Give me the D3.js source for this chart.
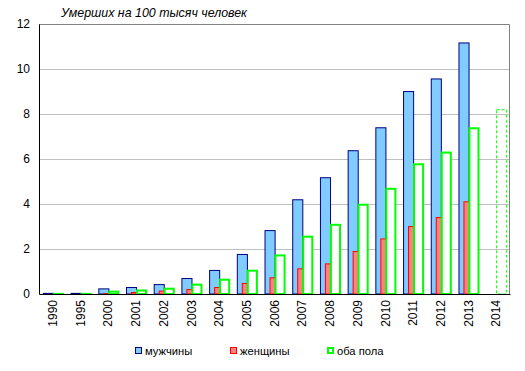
<!DOCTYPE html>
<html>
<head>
<meta charset="utf-8">
<script src="https://cdn.jsdelivr.net/npm/d3@7"></script>
<style>
  body { margin: 0; background: #fff; }
  text { font-family: "Liberation Sans", Arial, sans-serif; fill: #000; }
</style>
</head>
<body>
<div id="chart"></div>
<script>
// data
let years = ["1990", "1995", "2000", "2001", "2002", "2003", "2004", "2005", "2006",
    "2007", "2008", "2009", "2010", "2011", "2012", "2013", "2014"];
let men   = [0.05, 0.05, 0.25, 0.31, 0.44, 0.71, 1.07, 1.78, 2.84, 4.21, 5.19, 6.39, 7.41, 9.02, 9.58, 11.18, null];
let women = [0.02, 0.02, 0.04, 0.09, 0.15, 0.22, 0.31, 0.49, 0.74, 1.14, 1.36, 1.91, 2.47, 3.02, 3.42, 4.12, null];
let both  = [0.05, 0.05, 0.15, 0.2, 0.28, 0.46, 0.68, 1.08, 1.76, 2.59, 3.12, 4.01, 4.72, 5.81, 6.33, 7.41, null];
let forecast = [null, null, null, null, null, null, null, null, null, null, null, null, null, null, null, null, 8.21];
let yTicks = [0, 2, 4, 6, 8, 10, 12];
let legendNames = ["мужчины", "женщины", "оба пола"];
let title = "Умерших на 100 тысяч человек";

let svgWidth = 525;
let svgHeight = 371;

let margin = { top: 24, right: 15, bottom: 77, left: 39 };
let width = svgWidth - margin.left - margin.right;
let height = svgHeight - margin.top - margin.bottom;

let svg = d3.select("#chart")
    .append("svg")
    .attr("width", svgWidth)
    .attr("height", svgHeight);

let chartGroup = svg.append("g")
    .attr("transform", `translate(${margin.left}, ${margin.top})`);

let xScale = d3.scaleBand()
    .domain(years)
    .range([0, width])
    .padding(0);

let yScale = d3.scaleLinear()
    .domain([0, 12])
    .range([height, 0]);

let bw = xScale.bandwidth();
let barW = bw * 0.4;

// gridlines
chartGroup.append("g")
    .selectAll("line")
    .data(yTicks.filter(t => t > 0 && t < 12))
    .enter()
    .append("line")
    .attr("x1", 0)
    .attr("x2", width)
    .attr("y1", d => Math.round(yScale(d)) + 0.5)
    .attr("y2", d => Math.round(yScale(d)) + 0.5)
    .attr("stroke", "#c0c0c0");

// top + right frame
chartGroup.append("path")
    .attr("d", `M0,0.5H${width - 0.5}V${height}`)
    .attr("fill", "none")
    .attr("stroke", "#808080");

let rows = years.map((y, i) => ({ year: y, men: men[i], women: women[i], both: both[i], forecast: forecast[i] }));

function drawBars(key, offset, fill, stroke, sw, dash) {
    chartGroup.append("g")
        .selectAll("rect")
        .data(rows.filter(d => d[key] != null))
        .enter()
        .append("rect")
        .attr("x", d => xScale(d.year) + bw * offset + sw / 2)
        .attr("y", d => yScale(d[key]) + sw / 2)
        .attr("width", barW - sw)
        .attr("height", d => Math.max(0, height - yScale(d[key]) - sw / 2))
        .attr("fill", fill)
        .attr("stroke", stroke)
        .attr("stroke-width", sw)
        .attr("stroke-dasharray", dash);
}

drawBars("men", 0.14, "#80ccff", "#000080", 1, null);
drawBars("women", 0.32, "#ff8080", "#ff0000", 1, null);
drawBars("both", 0.5, "#ffffff", "#00ff00", 2, null);
drawBars("forecast", 0.5, "none", "#00ff00", 1, "3,2");

// axes
let leftAxis = d3.axisLeft(yScale).tickValues(yTicks).tickSize(0).tickPadding(9);
let yAxis = chartGroup.append("g").call(leftAxis);
yAxis.select(".domain").attr("stroke", "#000");
yAxis.selectAll("text").attr("font-size", "12px").attr("font-family", "Liberation Sans, Arial, sans-serif");

let bottomAxis = d3.axisBottom(xScale).tickSize(0).tickPadding(0);
let xAxis = chartGroup.append("g")
    .attr("transform", `translate(0, ${height})`)
    .call(bottomAxis);
xAxis.select(".domain").attr("stroke", "#000");
xAxis.selectAll("text")
    .attr("font-size", "12px")
    .attr("font-family", "Liberation Sans, Arial, sans-serif")
    .attr("transform", "rotate(-90)")
    .attr("text-anchor", "end")
    .attr("x", -6)
    .attr("y", 0)
    .attr("dy", "0.35em");

// title
svg.append("text")
    .attr("x", 61)
    .attr("y", 17)
    .attr("font-size", "12.4px")
    .attr("font-style", "italic")
    .text(title);

// legend
let legendX = [135, 230, 327];
let legendFill = ["#80ccff", "#ff8080", "#ffffff"];
let legendStroke = ["#000080", "#ff0000", "#00ff00"];
let legend = svg.append("g");
legendNames.forEach(function(name, i) {
    let sw = i === 2 ? 2 : 1;
    legend.append("rect")
        .attr("x", legendX[i] + sw / 2)
        .attr("y", 347 + sw / 2)
        .attr("width", 7 - sw)
        .attr("height", 7 - sw)
        .attr("fill", legendFill[i])
        .attr("stroke", legendStroke[i])
        .attr("stroke-width", sw);
    legend.append("text")
        .attr("x", legendX[i] + 10)
        .attr("y", 355)
        .attr("font-size", "11.2px")
        .text(name);
});
</script>
</body>
</html>
